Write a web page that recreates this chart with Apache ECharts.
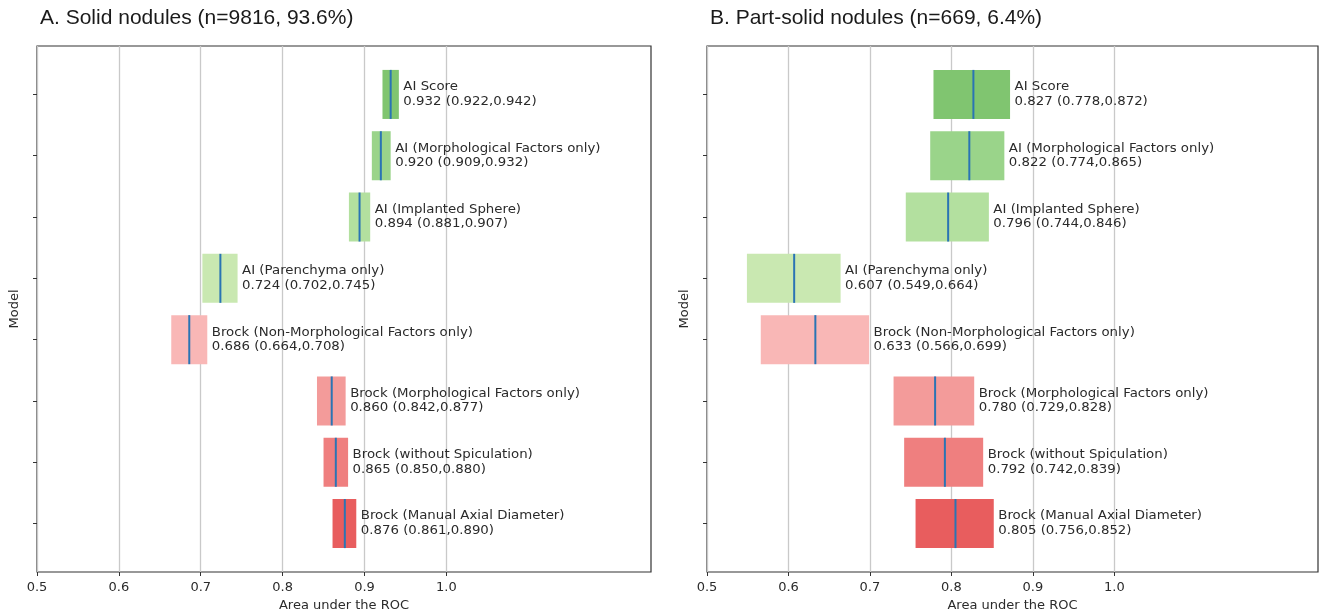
<!DOCTYPE html>
<html>
<head>
<meta charset="utf-8">
<script src="https://cdn.jsdelivr.net/npm/echarts@6/dist/echarts.min.js"></script>
<style>
  html, body { margin: 0; padding: 0; background: #fff; }
  #chart { width: 1322px; height: 613px; }
</style>
</head>
<body>
<div id="chart"></div>
<script>
// model names, top to bottom
const models = [
  'AI Score',
  'AI (Morphological Factors only)',
  'AI (Implanted Sphere)',
  'AI (Parenchyma only)',
  'Brock (Non-Morphological Factors only)',
  'Brock (Morphological Factors only)',
  'Brock (without Spiculation)',
  'Brock (Manual Axial Diameter)'
]

// A. solid nodules
const solidAuc  = [0.932, 0.920, 0.894, 0.724, 0.686, 0.860, 0.865, 0.876]
const solidLow  = [0.922, 0.909, 0.881, 0.702, 0.664, 0.842, 0.850, 0.861]
const solidHigh = [0.942, 0.932, 0.907, 0.745, 0.708, 0.877, 0.880, 0.890]

// B. part-solid nodules
const partAuc  = [0.827, 0.822, 0.796, 0.607, 0.633, 0.780, 0.792, 0.805]
const partLow  = [0.778, 0.774, 0.744, 0.549, 0.566, 0.729, 0.742, 0.756]
const partHigh = [0.872, 0.865, 0.846, 0.664, 0.699, 0.828, 0.839, 0.852]

const xTicks = [0.5, 0.6, 0.7, 0.8, 0.9, 1.0]
const yTicks = [0, 1, 2, 3, 4, 5, 6, 7]

const barColors = ['#80c570', '#9ad48a', '#b3e09f', '#c9e8b1',
                   '#f9b7b6', '#f39b9a', '#ef7f7f', '#e85d5e']
const labelFont = 'DejaVu Sans'
const textColor = '#2b2b2b'

function rows(auc, low, high) {
  return models.map((m, i) => [i, low[i], auc[i], high[i]])
}

function renderBox(params, api) {
  const i = api.value(0)
  const low = api.value(1), est = api.value(2), high = api.value(3)
  const p1 = api.coord([low, i - 0.4])
  const p2 = api.coord([high, i + 0.4])
  const pe = api.coord([est, i])
  const top = Math.min(p1[1], p2[1])
  const h = Math.abs(p2[1] - p1[1])
  const mid = api.coord([high, i])
  return {
    type: 'group',
    children: [
      { type: 'rect', shape: { x: p1[0], y: top, width: p2[0] - p1[0], height: h },
        style: { fill: barColors[i] } },
      { type: 'line', shape: { x1: pe[0], y1: top, x2: pe[0], y2: top + h },
        style: { stroke: '#2a74b4', lineWidth: 2 } },
      // the source picture is a little stretched sideways, hence scaleX
      { type: 'text', x: mid[0] + 4.5, y: mid[1], scaleX: 1.11,
        style: {
          text: models[i] + '\n' + est.toFixed(3) + ' (' + low.toFixed(3) + ',' + high.toFixed(3) + ')',
          fill: textColor, font: '12px "' + labelFont + '"', lineHeight: 14.5,
          align: 'left', verticalAlign: 'middle'
        } }
    ]
  }
}

function xAxisFor(idx) {
  return {
    type: 'value', gridIndex: idx, min: 0.5, max: 1.25,
    name: 'Area under the ROC', nameLocation: 'middle', nameGap: 27,
    nameTextStyle: { fontFamily: labelFont, fontSize: 13, color: textColor },
    axisLine: { show: false, onZero: false },
    axisTick: { show: true, length: 4, customValues: xTicks, lineStyle: { color: '#333' } },
    axisLabel: { customValues: xTicks, margin: 9, fontFamily: labelFont, fontSize: 13, color: textColor,
      formatter: v => v.toFixed(1) },
    splitLine: { show: true, lineStyle: { color: '#c9c9c9', width: 1.3 } }
  }
}

function yAxisFor(idx) {
  return {
    type: 'value', gridIndex: idx, inverse: true, min: -0.79, max: 7.79,
    name: 'Model', nameLocation: 'middle', nameGap: 16, nameRotate: 90,
    nameTextStyle: { fontFamily: labelFont, fontSize: 13, color: textColor },
    axisLine: { show: false, onZero: false },
    axisTick: { show: true, length: 4, customValues: yTicks, lineStyle: { color: '#333' } },
    axisLabel: { show: false },
    splitLine: { show: false }
  }
}

const titleStyle = { fontFamily: 'Liberation Sans', fontSize: 21, fontWeight: 'normal', color: '#1a1a1a' }

const option = {
  animation: false,
  backgroundColor: '#fff',
  title: [
    { text: 'A. Solid nodules (n=9816, 93.6%)', left: 40, top: 8, padding: 0, textStyle: titleStyle },
    { text: 'B. Part-solid nodules (n=669, 6.4%)', left: 710, top: 8, padding: 0, textStyle: titleStyle }
  ],
  grid: [
    { left: 37, top: 46, width: 614, height: 526, show: true, borderColor: '#333', borderWidth: 1.2,
      outerBoundsMode: 'none' },
    { left: 707, top: 46, width: 611, height: 526, show: true, borderColor: '#333', borderWidth: 1.2,
      outerBoundsMode: 'none' }
  ],
  xAxis: [xAxisFor(0), xAxisFor(1)],
  yAxis: [yAxisFor(0), yAxisFor(1)],
  series: [
    { type: 'custom', xAxisIndex: 0, yAxisIndex: 0, renderItem: renderBox,
      encode: { x: [1, 2, 3], y: 0 }, data: rows(solidAuc, solidLow, solidHigh) },
    { type: 'custom', xAxisIndex: 1, yAxisIndex: 1, renderItem: renderBox,
      encode: { x: [1, 2, 3], y: 0 }, data: rows(partAuc, partLow, partHigh) }
  ]
}

const chart = echarts.init(document.getElementById('chart'))
chart.setOption(option)
</script>
</body>
</html>
